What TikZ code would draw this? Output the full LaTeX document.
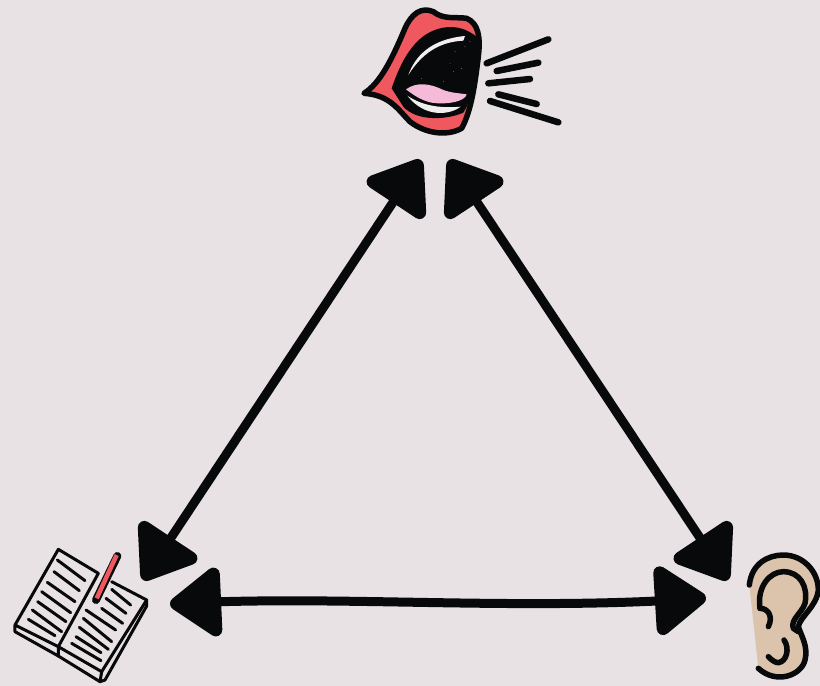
\documentclass[tikz,border=0pt]{standalone}
\usepackage{tikz}
\usetikzlibrary{arrows.meta, bending}
\definecolor{paper}{RGB}{232,226,229}
\definecolor{ink}{RGB}{8,9,10}
\definecolor{lip}{RGB}{240,88,96}
\definecolor{tongue}{RGB}{244,186,216}
\definecolor{skin}{RGB}{220,195,171}
\tikzset{>={Triangle[length=56pt,width=78pt,line width=13pt,round]}}
\tikzset{
    twoway/.style = {<->, draw=ink, line width=9pt},
    outline/.style = {draw=ink, line width=5.5pt, line join=round, line cap=round},
    stroke/.style = {draw=ink, line width=3pt, line cap=round, line join=round},
    speech/.style = {draw=ink, line width=6.5pt, line cap=round}
}
\begin{document}
\begin{tikzpicture}[x=1pt,y=-1pt]
	\useasboundingbox [fill=paper] (0,0) rectangle (820,686);
	% mouth
	\begin{scope}[shift={(350,0)},scale=1/3]
		\path [outline,fill=lip] (42,280) .. controls (90,250) and (125,180) .. (165,85) .. controls (185,40) and (215,20) .. (250,35) .. controls (280,60) and (320,50) .. (350,55) .. controls (385,70) and (392,110) .. (385,170) .. controls (375,250) and (365,330) .. (335,385) .. controls (290,410) and (225,400) .. (180,365) .. controls (145,330) and (120,285) .. (42,280) -- cycle;
		\fill [ink] (125,265) .. controls (150,190) and (190,110) .. (260,88) .. controls (310,72) and (350,85) .. (382,112) -- (380,180) .. controls (372,250) and (365,300) .. (340,338) .. controls (290,360) and (200,365) .. (160,320) -- cycle;
		\fill [paper!60!white] (175,225) .. controls (195,170) and (240,118) .. (345,108) -- (340,122) .. controls (285,125) and (225,145) .. (175,225) -- cycle;
		\fill [tongue] (168,268) .. controls (200,245) and (240,250) .. (280,270) .. controls (300,278) and (330,280) .. (350,283) .. controls (345,305) and (290,315) .. (245,308) .. controls (215,302) and (190,285) .. (168,268) -- cycle;
		\fill [paper!60!white] (172,287) .. controls (220,320) and (280,325) .. (332,320) .. controls (300,345) and (225,355) .. (172,287) -- cycle;
		\foreach \px/\py in {315/155, 335/205, 300/190, 345/140, 280/245, 215/235, 360/125, 310/215}
			\fill [paper] (\px,\py) circle (1pt);
		\draw [speech] (410,190) -- (595,118);
		\draw [speech] (440,213) -- (565,188);
		\draw [speech] (415,250) -- (540,237);
		\draw [speech] (445,283) -- (560,312);
		\draw [speech] (420,303) -- (625,367);
	\end{scope}
	% book
	\begin{scope}[shift={(0,530)},scale=1/3]
		\draw [stroke] (295,130) -- (175,58) -- (45,285) -- (45,305) -- (175,378) -- (175,350) -- (45,285);
		\draw [stroke] (295,130) -- (175,350) -- (305,425) -- (440,210) -- (335,155);
		\draw [stroke] (175,378) -- (300,455) -- (315,450) -- (440,228) -- (440,210);
		\draw [stroke] (305,425) -- (300,455);
		\foreach \ax/\ay/\bx/\by in {172/90/255/152, 162/125/238/182, 142/157/225/215, 125/185/212/248, 113/215/198/275, 97/240/185/305, 85/268/165/317, 335/178/392/225, 318/205/378/250, 305/235/368/280, 258/240/347/300, 250/265/335/335, 238/292/325/358, 228/320/303/368, 215/340/303/392}
			\draw [stroke] (\ax,\ay) -- (\bx,\by);
		\draw [ink,line width=8pt,line cap=round] (352,78) -- (288,210);
		\draw [lip,line width=4.5pt] (350,75) -- (290,205);
	\end{scope}
	% ear
	\begin{scope}[shift={(640,520)},scale=1/3]
		\fill [skin] (328,195) .. controls (335,130) and (385,105) .. (430,105) .. controls (490,105) and (535,155) .. (535,210) .. controls (530,260) and (480,290) .. (475,320) .. controls (485,350) and (505,380) .. (495,420) .. controls (485,465) and (440,490) .. (355,445) -- cycle;
		\draw [outline] (328,195) .. controls (335,130) and (385,105) .. (430,105) .. controls (490,105) and (535,155) .. (535,210) .. controls (530,260) and (480,290) .. (475,320) .. controls (485,350) and (505,380) .. (495,420) .. controls (485,465) and (410,495) .. (355,445);
		\draw [outline] (360,265) .. controls (350,200) and (390,155) .. (430,155) .. controls (480,155) and (505,200) .. (495,250) .. controls (485,280) and (450,300) .. (460,325) -- (475,335);
		\draw [outline] (360,265) .. controls (385,265) and (400,290) .. (385,320);
		\draw [outline] (432,360) .. controls (450,385) and (440,425) .. (415,428) .. controls (405,428) and (395,420) .. (385,410);
	\end{scope}
	% ends of the connectors
	\coordinate (mouthL) at (421,160);
	\coordinate (mouthR) at (449,160);
	\coordinate (bookT) at (143,580);
	\coordinate (bookR) at (170,604);
	\coordinate (earT) at (728,580);
	\coordinate (earL) at (706,598);
	\draw [twoway] (bookT) to (mouthL);
	\draw [twoway] (mouthR) to (earT);
	\draw [twoway] (bookR) .. controls (330,594) and (520,612) .. (earL);
\end{tikzpicture}
\end{document}
